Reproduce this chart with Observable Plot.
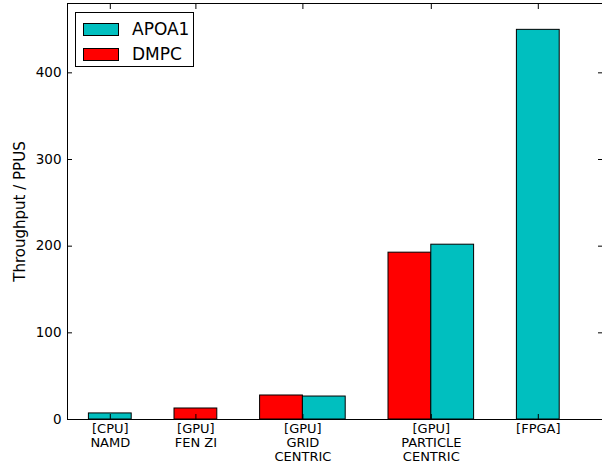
<!DOCTYPE html>
<html>
<head>
<meta charset="utf-8">
<script src="https://cdn.jsdelivr.net/npm/d3@7"></script>
<script src="https://cdn.jsdelivr.net/npm/@observablehq/plot@0.6"></script>
<style>
  html, body { margin: 0; padding: 0; background: #fff; }
  #wrap { position: relative; width: 602px; height: 465px; font-family: "DejaVu Sans", sans-serif; }
  #legend { position: absolute; left: 75px; top: 12px; width: 117px; height: 53px; border: 1px solid #000; background: #fff; box-sizing: content-box; }
  .item { position: absolute; left: 7px; display: flex; align-items: center; font-size: 17px; color: #000; }
  .sw { width: 34px; height: 11px; border: 1px solid #000; margin-right: 13px; }
</style>
</head>
<body>
<div id="wrap"></div>
<script>
const categories = ["[CPU]\nNAMD", "[GPU]\nFEN ZI", "[GPU]\nGRID\nCENTRIC", "[GPU]\nPARTICLE\nCENTRIC", "[FPGA]"];
const seriesNames = ["DMPC", "APOA1"];
const dmpc  = [null, 12.7, 27.7, 192.5, null];
const apoa1 = [7.0, null, 26.5, 201.7, 449.6];
const colors = {DMPC: "#ff0000", APOA1: "#00bfbf"};
const yTicks = [0, 100, 200, 300, 400];

// build bar table: bars of a group sit side by side, one unit wide, with a one-unit gap between groups
const bars = [];
const centers = [];
let cursor = 0.5;
categories.forEach((c, i) => {
  const vals = [["DMPC", dmpc[i]], ["APOA1", apoa1[i]]].filter(d => d[1] != null);
  centers.push(cursor + vals.length / 2);
  vals.forEach(([s, v], j) => bars.push({cat: c, series: s, x1: cursor + j, x2: cursor + j + 1, value: v}));
  cursor += vals.length + 1;
});
const labelOf = new Map(centers.map((c, i) => [c, categories[i]]));

const font = "DejaVu Sans";
const chart = Plot.plot({
  width: 602,
  height: 465,
  marginLeft: 67,
  marginRight: 0,
  marginTop: 3,
  marginBottom: 46,
  style: {fontFamily: font, fontSize: "13.5px", color: "#000", background: "#fff"},
  x: {type: "linear", domain: [0, cursor]},
  y: {domain: [0, 480]},
  marks: [
    Plot.rectY(bars, {x1: "x1", x2: "x2", y: "value", fill: d => colors[d.series], stroke: "#000", strokeWidth: 1}),
    Plot.axisY({ticks: yTicks, tickSize: 0, tickPadding: 6, label: null, fontSize: 13.5}),
    Plot.axisY({ticks: [], tickSize: 0, label: "Throughput / PPUS", labelAnchor: "center", labelArrow: "none", labelOffset: 53, fontSize: 15}),
    Plot.axisY({ticks: yTicks, tickSize: -5, tickFormat: () => "", label: null}),
    Plot.axisY({ticks: yTicks, anchor: "right", tickSize: -5, tickFormat: () => "", label: null}),
    Plot.axisX({ticks: centers, tickSize: 0, tickPadding: 4, tickFormat: d => labelOf.get(d), label: null, lineHeight: 1.07, fontSize: 13}),
    Plot.axisX({ticks: centers, tickSize: -5, tickFormat: () => "", label: null}),
    Plot.axisX({ticks: centers, anchor: "top", tickSize: -5, tickFormat: () => "", label: null}),
    Plot.frame({stroke: "#000", strokeWidth: 1})
  ]
});
const wrap = document.getElementById("wrap");
wrap.appendChild(chart);

const legend = document.createElement("div");
legend.id = "legend";
["APOA1", "DMPC"].forEach((s, i) => {
  const it = document.createElement("div");
  it.className = "item";
  it.style.top = (i === 0 ? 6 : 31) + "px";
  it.innerHTML = `<div class="sw" style="background:${colors[s]}"></div><span>${s}</span>`;
  legend.appendChild(it);
});
wrap.appendChild(legend);
</script>
</body>
</html>
